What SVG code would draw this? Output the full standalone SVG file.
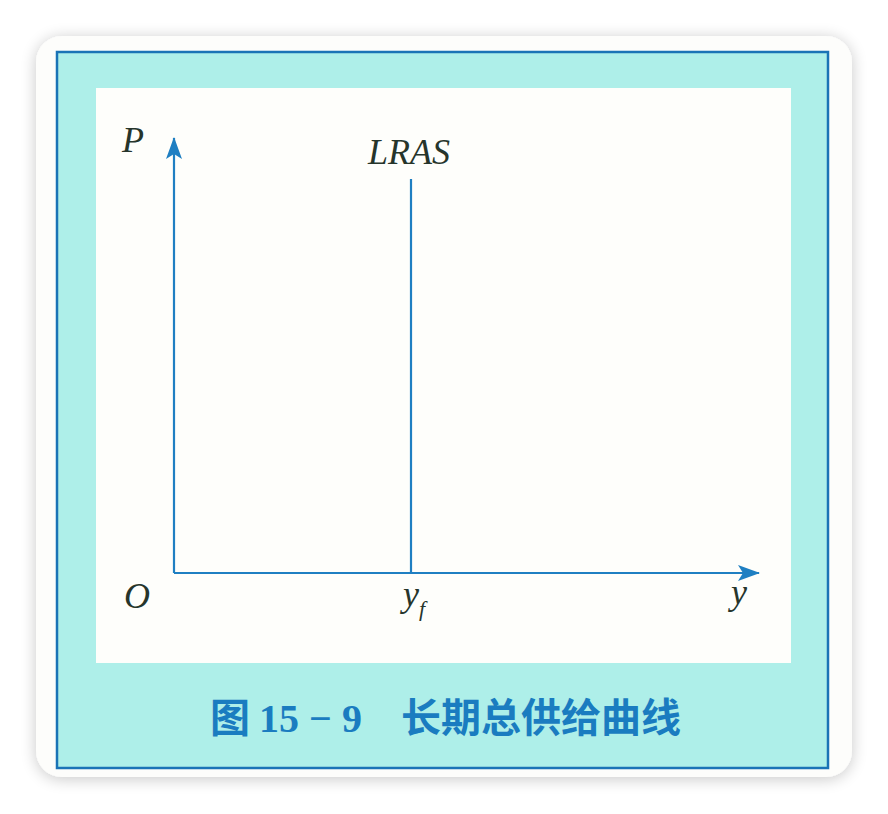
<svg xmlns="http://www.w3.org/2000/svg" width="888" height="814" viewBox="0 0 888 814">
<style>
.ax{stroke:#1f7fc2;stroke-width:2.2;fill:none}
.lbl{font-family:"Liberation Serif","DejaVu Serif",serif;font-style:italic;fill:#26352b;font-size:36px}
.cap{font-family:"Noto Sans CJK SC","Liberation Sans",sans-serif;font-weight:bold;fill:#1a7cc0;font-size:40px}
.num{font-family:"Liberation Serif",serif;font-weight:bold}
</style>
<defs>
<filter id="sh" x="-10%" y="-10%" width="120%" height="120%">
<feGaussianBlur in="SourceAlpha" stdDeviation="8"/>
<feOffset dx="0" dy="2"/>
<feComponentTransfer><feFuncA type="linear" slope="0.22"/></feComponentTransfer>
<feMerge><feMergeNode/><feMergeNode in="SourceGraphic"/></feMerge>
</filter>
<marker id="ah" viewBox="0 0 22 16" refX="21" refY="8" markerWidth="22" markerHeight="16" markerUnits="userSpaceOnUse" orient="auto">
<path d="M0,0 L22,8 L0,16 L5,8 Z" fill="#1f7fc2"/>
</marker>
</defs>
<rect width="888" height="814" fill="#ffffff"/>
<g id="card">
<rect x="36" y="36" width="816" height="741" rx="26" fill="#fdfdfb" filter="url(#sh)"/>
<rect x="57" y="52" width="771" height="716" fill="#aeefe9" stroke="#1a73b6" stroke-width="2.5"/>
<rect x="96" y="88" width="695" height="575" fill="#fefefb"/>
</g>
<g id="connectors">
<path class="ax" d="M174,573 L174,138" marker-end="url(#ah)"/>
<path class="ax" d="M174,573 L759,573" marker-end="url(#ah)"/>
<path class="ax" d="M411,179 L411,573"/>
</g>
<g id="labels">
<text class="lbl" x="122" y="152">P</text>
<text class="lbl" x="368" y="164">LRAS</text>
<text class="lbl" x="124" y="608">O</text>
<text class="lbl" x="403" y="606">y<tspan font-size="22" dy="10">f</tspan></text>
<text class="lbl" x="731" y="604">y</text>
</g>
<g id="caption">
<text class="cap" x="210" y="732">图 <tspan class="num">15 − 9</tspan><tspan x="401">长期总供给曲线</tspan></text>
</g>
</svg>
